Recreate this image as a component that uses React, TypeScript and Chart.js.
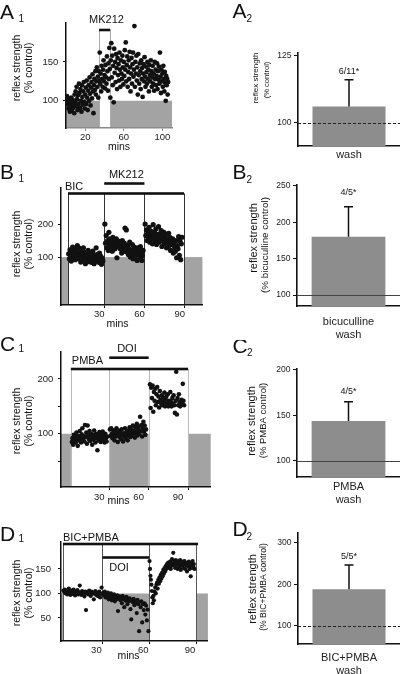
import React, { useEffect, useRef } from 'react';
import { Chart, registerables } from 'chart.js';

Chart.register(...registerables);

const FONT = '"Liberation Sans", Arial, Helvetica, sans-serif';
const INK = '#111111';
const SHADE = '#a3a3a3';
const BAR_FILL = '#8d8d8d';
const REF_LEVEL = 100;

// ================= DATA =================
// ---- A1 : MK212 alone ----
const A1_POINTS: number[][] = [
  [1,106],[1.5,96],[2,100],[2.5,90],[3,103],[3.5,94],[4,86],[4.5,99],[5,92],[5.5,104],[6,88],[6.5,97],[7,101],[7.5,91],[8,95],[8.5,84],[9,108],[9.5,98],
  [10,112],[10.5,93],[11,118],[11.5,102],[12,88],[12.5,107],[13,96],[13.5,122],[14,110],[14.5,91],[15,115],[15.5,100],[16,86],[16.5,120],[17,105],[17.5,95],[18,112],[18.5,124],[19,99],[19.5,90],
  [20,108],[20.5,117],[21,96],[21.5,126],[22,104],[22.5,88],[23,113],[23.5,120],[24,100],[24.5,130],[25,109],[25.5,94],[26,117],[26.5,124],[27,103],[27.5,134],[28,112],[28.5,84],[29,120],[29.5,128],
  [30,114],[30.5,138],[31,108],[31.5,125],[32,143],[32.5,118],[33,131],[33.5,104],[34,138],[34.5,126],
  [35,162],[35.5,122],[36,135],[36.5,112],[37,145],[37.5,128],[38,118],[38.5,140],[39,152],[39.5,125],[40,133],[40.5,116],[41,146],[41.5,130],[42,122],[42.5,157],[43,138],[43.5,113],[44,148],[44.5,128],
  [45,168],[45.5,141],[46,104],[46.5,152],[47,174],[47.5,130],[48,158],[48.5,120],[49,145],[49.5,98],[50,167],[50.5,136],[51,150],[51.5,124],[52,160],[52.5,142],[53,115],[53.5,155],[54,133],[54.5,147],[55,126],[55.5,162],[56,140],[56.5,118],[57,152],[57.5,135],[58,128],[58.5,158],[59,143],[59.5,121],
  [60,150],[60.5,132],[61,165],[61.5,140],[62,175],[62.5,125],[63,146],[63.5,157],[64,118],[64.5,137],[65,152],[65.5,128],[66,163],[66.5,143],[67,112],[67.5,135],[68,155],[68.5,122],[69,147],[69.5,162],[70,131],[70.5,140],[71,196],[71.5,118],[72,150],[72.5,135],[73,158],[73.5,126],[74,143],[74.5,108],
  [75,160],[75.5,133],[76,122],[76.5,148],[77,138],[77.5,115],[78,152],[78.5,128],[79,142],[79.5,105],[80,135],[80.5,147],[81,125],[81.5,156],[82,131],[82.5,118],[83,144],[83.5,137],[84,122],[84.5,150],[85,128],[85.5,140],[86,112],[86.5,146],[87,133],[87.5,125],[88,152],[88.5,138],[89,118],[89.5,130],
  [90,145],[90.5,122],[91,135],[91.5,113],[92,150],[92.5,128],[93,140],[93.5,120],[94,132],[94.5,148],[95,115],[95.5,138],[96,127],[96.5,144],[97,122],[97.5,162],[98,131],[98.5,110],[99,140],[99.5,125],[100,135],[100.5,118],[101,145],[101.5,128],[102,112],[102.5,137],[103,123],[103.5,100],[104,132],[104.5,120],[105,128],[105.5,108],[106,124],
];
const A1_X_TICKS = [20, 60, 100];
const A1_Y_TICKS = [100, 150];
const A1_Y_LABELS = ['100', '150'];
const A1_SHADED = [[0, 34.3], [45.7, 110]];
const A1_EDGES = [34.3, 45.7];
const A1_DRUGS = [{ name: 'MK212', from: 34.3, to: 45.7 }];

// ---- B1 : bicuculline + MK212 ----
const B1_POINTS: number[][] = [
  [3.5,110],[4,95],[4.5,122],[5,102],[5.5,88],[6,115],[6.5,130],[7,98],[7.5,107],[8,125],[8.5,92],[9,118],[9.5,104],[10,135],[10.5,96],[11,112],[11.5,127],[12,100],[12.5,85],[13,118],[13.5,108],[14,92],[14.5,128],[15,103],[15.5,114],[16,80],[16.5,98],[17,110],[17.5,92],[18,120],[18.5,86],[19,104],[19.5,96],[20,112],[20.5,84],[21,100],[21.5,118],[22,92],[22.5,80],[23,105],[23.5,95],[24,128],[24.5,88],[25,108],[25.5,98],[26,84],[26.5,112],[27,93],[27.5,102],[28,78],[28.5,96],[29,88],
  [30.5,200],[31,142],[31.5,165],[32,128],[32.5,150],[33,120],[33.5,175],[34,138],[34.5,155],[35,130],[35.5,145],[36,118],[36.5,160],[37,135],[37.5,148],[38,125],[38.5,140],[39,155],[39.5,98],[40,132],[40.5,148],[41,145],[41.5,128],[42,125],[42.5,138],[43,112],[43.5,150],[44,130],[44.5,118],[45,142],[45.5,188],[46,128],[46.5,182],[47,115],[47.5,135],[48,108],[48.5,125],[49,145],[49.5,100],[50,122],[50.5,110],[51,138],[51.5,95],[52,118],[52.5,130],[53,104],[53.5,122],[54,112],[54.5,90],[55,128],[55.5,108],[56,118],[56.5,98],[57,132],[57.5,110],[58,90],[58.5,105],[59,120],
  [60.5,200],[61,165],[61.5,182],[62,150],[62.5,172],[63,158],[63.5,190],[64,145],[64.5,168],[65,178],[65.5,155],[66,140],[66.5,198],[67,162],[67.5,175],[68,150],[68.5,185],[69,138],[69.5,168],[70,158],[70.5,192],[71,145],[71.5,170],[72,155],[72.5,180],[73,132],[73.5,162],[74,148],[74.5,175],[75,140],[75.5,158],[76,168],[76.5,128],[77,152],[77.5,145],[78,172],[78.5,135],[79,160],[79.5,120],[80,148],[80.5,138],[81,155],[81.5,112],[82,142],[82.5,130],[83,118],[83.5,150],[84,98],[84.5,135],[85,125],[85.5,162],[86,105],[86.5,148],[87,92],[87.5,140],[88,160],
];
const B1_X_TICKS = [30, 60, 90];
const B1_Y_TICKS = [100, 200];
const B1_Y_LABELS = ['100', '200'];
const B1_SHADED = [[-2.2, 3], [30, 60], [89.5, 103.2]];
const B1_EDGES = [3, 30, 60, 89.5];
const B1_DRUGS = [{ name: 'BIC', from: 3, to: 89.5 }, { name: 'MK212', from: 30, to: 60 }];

// ---- C1 : PMBA + DOI ----
const C1_POINTS: number[][] = [
  [1.5,85],[2,92],[2.5,80],[3,98],[3.5,88],[4,95],[4.5,84],[5,102],[5.5,90],[6,78],[6.5,96],[7,88],[7.5,105],[8,92],[8.5,84],[9,99],[9.5,110],[10,90],[10.5,96],[11,86],[11.5,116],[12,94],[12.5,102],[13,82],[13.5,115],[14,97],[14.5,90],[15,105],[15.5,87],[16,100],[16.5,93],[17,80],[17.5,98],[18,89],[18.5,106],[19,94],[19.5,84],[20,100],[20.5,92],[21,70],[21.5,97],[22,88],[22.5,103],[23,93],[23.5,85],[24,98],[24.5,90],[25,104],[25.5,88],[26,96],[26.5,84],[27,100],[27.5,92],[28,86],[28.5,95],
  [30.5,108],[31,96],[31.5,110],[32,100],[32.5,92],[33,106],[33.5,98],[34,88],[34.5,104],[35,95],[35.5,110],[36,100],[36.5,85],[37,97],[37.5,106],[38,94],[38.5,102],[39,90],[39.5,108],[40,98],[40.5,86],[41,101],[41.5,95],[42,110],[42.5,92],[43,103],[43.5,97],[44,88],[44.5,106],[45,99],[45.5,112],[46,94],[46.5,103],[47,108],[47.5,96],[48,115],[48.5,100],[49,105],[49.5,93],[50,112],[50.5,102],[51,118],[51.5,97],[52,107],[52.5,113],[53,100],[53.5,131],[54,105],[54.5,116],[55,95],[55.5,110],[56,122],[56.5,103],[57,115],[57.5,98],[58,108],
  [61,190],[61.5,147],[62,184],[62.5,165],[63,188],[63.5,140],[64,176],[64.5,160],[65,182],[65.5,152],[66,172],[66.5,185],[67,158],[67.5,168],[68,148],[68.5,178],[69,162],[69.5,155],[70,170],[70.5,152],[71,165],[71.5,158],[72,175],[72.5,150],[73,162],[73.5,168],[74,155],[74.5,172],[75,150],[75.5,160],[76,153],[76.5,176],[77,158],[77.5,150],[78,165],[78.5,155],[79,170],[79.5,152],[80,138],[80.5,160],[81,213],[81.5,135],[82,165],[82.5,152],[83,172],[83.5,158],[84,150],[84.5,156],[85,162],[85.5,155],[86,191],[86.5,160],[87,152],
];
const C1_X_TICKS = [30, 60, 90];
const C1_Y_TICKS = [50, 100, 150, 200];
const C1_Y_LABELS = ['', '100', '', '200'];
const C1_SHADED = [[-6.75, 0.75], [30, 60], [90, 107.25]];
const C1_EDGES = [0.75, 30, 60, 90];
const C1_DRUGS = [{ name: 'PMBA', from: 0.75, to: 90 }, { name: 'DOI', from: 30, to: 60 }];

// ---- D1 : BIC+PMBA + DOI ----
const D1_POINTS: number[][] = [
  [5,106],[5.5,103],[6,108],[6.5,100],[7,104],[7.5,98],[8,105],[8.5,110],[9,101],[9.5,97],[10,106],[10.5,103],[11,99],[11.5,108],[12,102],[12.5,96],[13,104],[13.5,100],[14,107],[14.5,98],[15,103],[15.5,116],[16,101],[16.5,97],[17,105],[17.5,99],[18,102],[18.5,94],[19,104],[19.5,66],[20,100],[20.5,103],[21,98],[21.5,106],[22,101],[22.5,95],[23,104],[23.5,99],[24,102],[24.5,88],[25,100],[25.5,105],[26,97],[26.5,102],[27,95],[27.5,100],[28,104],[28.5,92],[29,99],[29.5,112],
  [30.5,101],[31,96],[31.5,104],[32,92],[32.5,99],[33,94],[33.5,102],[34,88],[34.5,97],[35,92],[35.5,100],[36,86],[36.5,95],[37,90],[37.5,98],[38,84],[38.5,93],[39,88],[39.5,96],[40,64],[40.5,90],[41,94],[41.5,86],[42,92],[42.5,80],[43,95],[43.5,88],[44,72],[44.5,91],[45,85],[45.5,93],[46,78],[46.5,88],[47,84],[47.5,90],[48,68],[48.5,47],[49,86],[49.5,82],[50,89],[50.5,76],[51,85],[51.5,80],[52,60],[52.5,87],[53,78],[53.5,23],[54,83],[54.5,72],[55,84],[55.5,41],[56,78],[56.5,66],[57,80],[57.5,57],[58,75],[58.5,45],[59,67],[59.5,23],
  [60.2,166],[60.5,150],[60.8,136],[61.1,128],[61.4,118],[61.7,105],[62,92],[62.3,80],[62.7,95],[63,86],[63.4,104],[63.8,112],[64.2,100],[64.6,118],[65,122],[65.4,110],[65.8,128],[66.2,120],[66.6,133],[67,125],[67.4,138],[67.8,130],[68.2,142],[68.6,135],[69,148],[69.4,140],[69.8,152],[70.2,145],[70.6,156],[71,150],[71.4,160],[71.8,152],[72.2,163],[72.6,155],[73,158],[73.4,165],[73.8,150],[74.2,162],[74.6,170],[75,157],[75.4,183],[75.8,160],[76.2,166],[76.6,152],[77,168],[77.4,158],[77.8,163],[78.2,150],[78.6,166],[79,160],[79.4,155],[79.8,168],[80.2,148],[80.6,162],[81,157],[81.4,165],[81.8,152],[82.2,160],[82.6,166],[83,150],[83.4,158],[83.8,162],[84.2,145],[84.6,160],[85,155],[85.4,165],[85.8,150],[86.2,158],[86.6,135],[87,162],[87.4,152],[87.8,166],[88.2,155],[88.6,160],[89,150],
];
const D1_X_TICKS = [30, 60, 90];
const D1_Y_TICKS = [50, 100, 150];
const D1_Y_LABELS = ['50', '100', '150'];
const D1_SHADED = [[3.47, 4.74], [30, 60], [90, 97.6]];
const D1_EDGES = [4.74, 30, 60, 90];
const D1_DRUGS = [{ name: 'BIC+PMBA', from: 4.74, to: 91.3 }, { name: 'DOI', from: 30, to: 60 }];

// ---- summary bars ----
const A2_CATEGORY = ['wash'];
const A2_MEAN = [106];
const A2_SEM = [10];
const A2_NOTE = '6/11*';
const A2_Y_TICKS = [100, 125];

const B2_CATEGORY = ['bicuculline', 'wash'];
const B2_MEAN = [180];
const B2_SEM = [41];
const B2_NOTE = '4/5*';
const B2_Y_TICKS = [100, 150, 200, 250];

const C2_CATEGORY = ['PMBA', 'wash'];
const C2_MEAN = [144];
const C2_SEM = [21];
const C2_NOTE = '4/5*';
const C2_Y_TICKS = [100, 150, 200];

const D2_CATEGORY = ['BIC+PMBA', 'wash'];
const D2_MEAN = [188];
const D2_SEM = [59];
const D2_NOTE = '5/5*';
const D2_Y_TICKS = [100, 200, 300];

// ================= LAYOUT / STYLE =================
type Box = { left: number; top: number; width: number; height: number };
type Area = { left: number; top: number; right: number; bottom: number };
type Drug = { name: string; from: number; to: number };
type DrugStyle = { barDy: number; textDy: number; textDx: number; align: CanvasTextAlign };

interface ScatterSpec {
  box: Box; area: Area;
  x: number[]; y: number[];
  xTicks: number[]; xLabelOffset: number; xTickPad: number; xBorder: string;
  yTicks: number[]; yLabels: string[]; yTickPad: number;
  points: number[][]; radius: number;
  shaded: number[][]; edges: number[]; edgeColor: string; edgeTop: number;
  drugs: Drug[]; drugStyles: DrugStyle[];
  letter: string[]; letterPos: number[]; subPos: number[];
  yTitle: string[]; yTitlePos: number[];
  xTitle: string; xTitlePos: number[];
}

interface BarSpec {
  box: Box; area: Area; y: number[]; yTicks: number[];
  category: string[]; mean: number[]; sem: number[]; note: string; noteDy: number;
  refDashed: boolean; xTickPad: number; xLineHeight: number;
  letter: string[]; letterPos: number[]; subPos: number[];
  yTitle: string[]; yTitlePos: number[]; yTitleSizes: number[];
}

const YT = ['reflex strength', '(% control)'];

const SCATTERS: ScatterSpec[] = [
  {
    box: { left: 0, top: 0, width: 200, height: 160 }, area: { left: 66, top: 23, right: 172, bottom: 128 },
    x: [0, 110], y: [65, 200],
    xTicks: A1_X_TICKS, xLabelOffset: 0, xTickPad: 1.1, xBorder: '#8a8a8a',
    yTicks: A1_Y_TICKS, yLabels: A1_Y_LABELS, yTickPad: 4.7,
    points: A1_POINTS, radius: 2.4,
    shaded: A1_SHADED, edges: A1_EDGES, edgeColor: '#aaaaaa', edgeTop: 6,
    drugs: A1_DRUGS, drugStyles: [{ barDy: 7, textDy: -3, textDx: 2, align: 'center' }],
    letter: ['A', '1'], letterPos: [0, 18.5], subPos: [18.5, 21.5],
    yTitle: YT, yTitlePos: [17, 29, 68],
    xTitle: 'mins', xTitlePos: [119, 147.5],
  },
  {
    box: { left: 0, top: 160, width: 205, height: 175 }, area: { left: 61, top: 188, right: 205, bottom: 305 },
    x: [-2.2, 103.2], y: [-45, 309],
    xTicks: B1_X_TICKS, xLabelOffset: -5, xTickPad: 0.8, xBorder: INK,
    yTicks: B1_Y_TICKS, yLabels: B1_Y_LABELS, yTickPad: 4.7,
    points: B1_POINTS, radius: 2.6,
    shaded: B1_SHADED, edges: B1_EDGES, edgeColor: '#333333', edgeTop: 5.5,
    drugs: B1_DRUGS,
    drugStyles: [
      { barDy: 5.5, textDy: -1.5, textDx: -3, align: 'left' },
      { barDy: -4.5, textDy: -13, textDx: 2, align: 'center' },
    ],
    letter: ['B', '1'], letterPos: [0, 178.5], subPos: [18.5, 181.5],
    yTitle: YT, yTitlePos: [17, 29, 244],
    xTitle: 'mins', xTitlePos: [117.5, 323.7],
  },
  {
    box: { left: 0, top: 335, width: 213, height: 173 }, area: { left: 61, top: 352, right: 213, bottom: 487 },
    x: [-6.75, 107.25], y: [3, 249],
    xTicks: C1_X_TICKS, xLabelOffset: -10, xTickPad: 1.3, xBorder: INK,
    yTicks: C1_Y_TICKS, yLabels: C1_Y_LABELS, yTickPad: 4.7,
    points: C1_POINTS, radius: 2.3,
    shaded: C1_SHADED, edges: C1_EDGES, edgeColor: '#bbbbbb', edgeTop: 17,
    drugs: C1_DRUGS,
    drugStyles: [
      { barDy: 17, textDy: 9, textDx: 1, align: 'left' },
      { barDy: 5.7, textDy: -3, textDx: -2, align: 'center' },
    ],
    letter: ['C', '1'], letterPos: [0, 350.5], subPos: [18.5, 351.5],
    yTitle: YT, yTitlePos: [17, 29, 421],
    xTitle: 'mins', xTitlePos: [118.5, 501],
  },
  {
    box: { left: 0, top: 505, width: 210, height: 169 }, area: { left: 61, top: 542, right: 210, bottom: 641 },
    x: [3.47, 97.6], y: [3, 205],
    xTicks: D1_X_TICKS, xLabelOffset: -6, xTickPad: 0.3, xBorder: INK,
    yTicks: D1_Y_TICKS, yLabels: D1_Y_LABELS, yTickPad: 7,
    points: D1_POINTS, radius: 2.1,
    shaded: D1_SHADED, edges: D1_EDGES, edgeColor: '#555555', edgeTop: 2,
    drugs: D1_DRUGS,
    drugStyles: [
      { barDy: 2, textDy: -4, textDx: 0, align: 'left' },
      { barDy: 15.5, textDy: 25.5, textDx: -6.75, align: 'center' },
    ],
    letter: ['D', '1'], letterPos: [0, 541], subPos: [18.5, 541.5],
    yTitle: YT, yTitlePos: [17, 29, 593],
    xTitle: 'mins', xTitlePos: [128.5, 656],
  },
];

const BARS: BarSpec[] = [
  {
    box: { left: 200, top: 0, width: 200, height: 165 }, area: { left: 298, top: 53, right: 400, bottom: 146 },
    y: [91.3, 126], yTicks: A2_Y_TICKS,
    category: A2_CATEGORY, mean: A2_MEAN, sem: A2_SEM, note: A2_NOTE, noteDy: -8,
    refDashed: true, xTickPad: 2.4, xLineHeight: 1.2,
    letter: ['A', '2'], letterPos: [232.5, 18], subPos: [246.5, 22],
    yTitle: ['reflex strength', '(% control)'], yTitlePos: [255.5, 266.5, 78, 80], yTitleSizes: [8, 7.6],
  },
  {
    box: { left: 200, top: 165, width: 200, height: 175 }, area: { left: 297, top: 185, right: 400, bottom: 306 },
    y: [85, 251], yTicks: B2_Y_TICKS,
    category: B2_CATEGORY, mean: B2_MEAN, sem: B2_SEM, note: B2_NOTE, noteDy: -14,
    refDashed: false, xTickPad: 9.1, xLineHeight: 1.2,
    letter: ['B', '2'], letterPos: [232.5, 178.5], subPos: [246.5, 182.5],
    yTitle: ['reflex strength', '(% bicuculline control)'], yTitlePos: [254, 265, 238, 245], yTitleSizes: [11, 9.8],
  },
  {
    box: { left: 200, top: 340, width: 200, height: 170 }, area: { left: 297, top: 369, right: 400, bottom: 477 },
    y: [82.4, 201], yTicks: C2_Y_TICKS,
    category: C2_CATEGORY, mean: C2_MEAN, sem: C2_SEM, note: C2_NOTE, noteDy: -10,
    refDashed: false, xTickPad: 3.1, xLineHeight: 1.2,
    letter: ['C', '2'], letterPos: [232.5, 352.5], subPos: [247, 355.5],
    yTitle: ['reflex strength', '(% PMBA control)'], yTitlePos: [252, 263, 421, 420.5], yTitleSizes: [11, 9.5],
  },
  {
    box: { left: 200, top: 510, width: 200, height: 164 }, area: { left: 298, top: 533, right: 400, bottom: 644 },
    y: [56, 324], yTicks: D2_Y_TICKS,
    category: D2_CATEGORY, mean: D2_MEAN, sem: D2_SEM, note: D2_NOTE, noteDy: -8,
    refDashed: true, xTickPad: 8.4, xLineHeight: 1.1,
    letter: ['D', '2'], letterPos: [232.5, 535.5], subPos: [246.5, 539.5],
    yTitle: ['reflex strength', '(% BIC+PMBA control)'], yTitlePos: [253, 263.5, 589, 587], yTitleSizes: [11, 8.6],
  },
];

// ================= DRAW HELPERS =================
function drawText(ctx: CanvasRenderingContext2D, text: string, x: number, y: number, size: number, align: CanvasTextAlign = 'center') {
  ctx.font = `${size}px ${FONT}`;
  ctx.textAlign = align;
  ctx.textBaseline = 'middle';
  ctx.fillStyle = INK;
  ctx.fillText(text, x, y);
}

function drawVText(ctx: CanvasRenderingContext2D, text: string, x: number, y: number, size: number) {
  ctx.save();
  ctx.translate(x, y);
  ctx.rotate(-Math.PI / 2);
  drawText(ctx, text, 0, 0, size);
  ctx.restore();
}

function drawLetter(ctx: CanvasRenderingContext2D, letter: string[], pos: number[], sub: number[], box: Box) {
  ctx.fillStyle = INK;
  ctx.textAlign = 'left';
  ctx.textBaseline = 'alphabetic';
  ctx.font = `21px ${FONT}`;
  ctx.fillText(letter[0], pos[0] - box.left, pos[1] - box.top);
  ctx.font = `10px ${FONT}`;
  ctx.fillText(letter[1], sub[0] - box.left, sub[1] - box.top);
}

function scatterDecor(s: ScatterSpec) {
  return {
    id: 'scatterDecor',
    beforeDraw(chart: any) {
      const { ctx, chartArea: ca } = chart;
      const xs = chart.scales.x;
      const ys = chart.scales.y;
      ctx.save();
      ctx.fillStyle = SHADE;
      const yTop = ys.getPixelForValue(REF_LEVEL);
      s.shaded.forEach(([a, b]) => {
        const x0 = xs.getPixelForValue(a);
        const x1 = xs.getPixelForValue(b);
        ctx.fillRect(x0, yTop, x1 - x0, ca.bottom - yTop);
      });
      ctx.strokeStyle = s.edgeColor;
      ctx.lineWidth = 1;
      s.edges.forEach((v) => {
        const px = Math.round(xs.getPixelForValue(v)) + 0.5;
        ctx.beginPath();
        ctx.moveTo(px, ca.top + s.edgeTop);
        ctx.lineTo(px, ca.bottom);
        ctx.stroke();
      });
      ctx.restore();
    },
    afterDraw(chart: any) {
      const { ctx, chartArea: ca } = chart;
      const xs = chart.scales.x;
      const b = s.box;
      ctx.save();
      s.drugs.forEach((d, i) => {
        const st = s.drugStyles[i];
        const x0 = xs.getPixelForValue(d.from);
        const x1 = xs.getPixelForValue(d.to);
        const yb = ca.top + st.barDy;
        ctx.fillStyle = INK;
        ctx.fillRect(x0, yb - 1.3, x1 - x0, 2.6);
        const tx = st.align === 'left' ? x0 + st.textDx : (x0 + x1) / 2 + st.textDx;
        drawText(ctx, d.name, tx, ca.top + st.textDy, 11, st.align);
      });
      drawVText(ctx, s.yTitle[0], s.yTitlePos[0] - b.left, s.yTitlePos[2] - b.top, 10.5);
      drawVText(ctx, s.yTitle[1], s.yTitlePos[1] - b.left, s.yTitlePos[2] - b.top, 10.5);
      drawText(ctx, s.xTitle, s.xTitlePos[0] - b.left, s.xTitlePos[1] - b.top, 10.5);
      drawLetter(ctx, s.letter, s.letterPos, s.subPos, b);
      ctx.restore();
    },
  };
}

function barDecor(s: BarSpec) {
  return {
    id: 'barDecor',
    afterDatasetsDraw(chart: any) {
      const { ctx, chartArea: ca } = chart;
      const ys = chart.scales.y;
      const bar = chart.getDatasetMeta(0).data[0];
      const cx = bar.x;
      ctx.save();
      const yRef = Math.round(ys.getPixelForValue(REF_LEVEL)) + 0.5;
      ctx.strokeStyle = s.refDashed ? '#222222' : '#444444';
      ctx.lineWidth = 1;
      ctx.setLineDash(s.refDashed ? [3, 2] : []);
      ctx.beginPath();
      ctx.moveTo(ca.left, yRef);
      ctx.lineTo(ca.right, yRef);
      ctx.stroke();
      ctx.setLineDash([]);
      const yTop = ys.getPixelForValue(s.mean[0]);
      const yErr = ys.getPixelForValue(s.mean[0] + s.sem[0]);
      ctx.strokeStyle = INK;
      ctx.lineWidth = 1.5;
      ctx.beginPath();
      ctx.moveTo(cx, yTop);
      ctx.lineTo(cx, yErr);
      ctx.moveTo(cx - 4.5, yErr);
      ctx.lineTo(cx + 4.5, yErr);
      ctx.stroke();
      drawText(ctx, s.note, cx, yErr + s.noteDy, 9);
      ctx.restore();
    },
    afterDraw(chart: any) {
      const { ctx } = chart;
      const b = s.box;
      ctx.save();
      drawVText(ctx, s.yTitle[0], s.yTitlePos[0] - b.left, s.yTitlePos[2] - b.top, s.yTitleSizes[0]);
      drawVText(ctx, s.yTitle[1], s.yTitlePos[1] - b.left, s.yTitlePos[3] - b.top, s.yTitleSizes[1]);
      drawLetter(ctx, s.letter, s.letterPos, s.subPos, b);
      ctx.restore();
    },
  };
}

// ================= COMPONENTS =================
function ScatterPanel({ spec }: { spec: ScatterSpec }) {
  const ref = useRef<HTMLCanvasElement>(null);
  useEffect(() => {
    const s = spec;
    const cfg: any = {
      type: 'scatter',
      data: {
        datasets: [{
          data: s.points.map(([x, y]) => ({ x, y })),
          pointRadius: s.radius, pointHoverRadius: s.radius,
          pointBackgroundColor: INK, pointBorderColor: INK, pointBorderWidth: 0,
          showLine: false,
        }],
      },
      options: {
        responsive: false, animation: false, events: [],
        layout: { padding: { left: 0, bottom: 0, top: s.area.top - s.box.top, right: s.box.left + s.box.width - s.area.right } },
        plugins: { legend: { display: false }, tooltip: { enabled: false } },
        scales: {
          x: {
            type: 'linear', position: 'bottom', min: s.x[0], max: s.x[1],
            afterFit: (sc: any) => { sc.height = s.box.top + s.box.height - s.area.bottom; },
            afterBuildTicks: (sc: any) => { sc.ticks = s.xTicks.map((v) => ({ value: v })); },
            ticks: {
              autoSkip: false, maxRotation: 0, color: '#222222', padding: s.xTickPad, labelOffset: s.xLabelOffset,
              font: { family: FONT, size: 9.5, lineHeight: 1.2 },
              callback: (v: any) => String(v),
            },
            grid: { display: true, drawOnChartArea: false, drawTicks: true, tickLength: 3, color: s.xBorder, lineWidth: 1 },
            border: { display: true, color: s.xBorder, width: 1.5 },
          },
          y: {
            type: 'linear', position: 'left', min: s.y[0], max: s.y[1],
            afterFit: (sc: any) => { sc.width = s.area.left - s.box.left; },
            afterBuildTicks: (sc: any) => { sc.ticks = s.yTicks.map((v) => ({ value: v })); },
            ticks: {
              autoSkip: false, color: '#222222', padding: s.yTickPad,
              font: { family: FONT, size: 9.5, lineHeight: 1.2 },
              callback: (_v: any, i: number) => s.yLabels[i],
            },
            grid: { display: true, drawOnChartArea: false, drawTicks: true, tickLength: 3, color: INK, lineWidth: 1 },
            border: { display: true, color: INK, width: 1.5 },
          },
        },
      },
      plugins: [scatterDecor(s)],
    };
    const chart = new Chart(ref.current as HTMLCanvasElement, cfg);
    return () => chart.destroy();
  }, [spec]);
  return (
    <canvas ref={ref} width={spec.box.width} height={spec.box.height}
      style={{ position: 'absolute', left: spec.box.left, top: spec.box.top, width: spec.box.width, height: spec.box.height }} />
  );
}

function BarPanel({ spec }: { spec: BarSpec }) {
  const ref = useRef<HTMLCanvasElement>(null);
  useEffect(() => {
    const s = spec;
    const cfg: any = {
      type: 'bar',
      data: {
        labels: [s.category],
        datasets: [{ data: s.mean, backgroundColor: BAR_FILL, borderWidth: 0, barPercentage: 0.716, categoryPercentage: 1 }],
      },
      options: {
        responsive: false, animation: false, events: [],
        layout: { padding: { left: 0, bottom: 0, top: s.area.top - s.box.top, right: s.box.left + s.box.width - s.area.right } },
        plugins: { legend: { display: false }, tooltip: { enabled: false } },
        scales: {
          x: {
            type: 'category', position: 'bottom',
            afterFit: (sc: any) => { sc.height = s.box.top + s.box.height - s.area.bottom; },
            ticks: { color: '#222222', padding: s.xTickPad, maxRotation: 0, font: { family: FONT, size: 11, lineHeight: s.xLineHeight } },
            grid: { display: false, drawTicks: false },
            border: { display: true, color: INK, width: 1.6 },
          },
          y: {
            type: 'linear', position: 'left', min: s.y[0], max: s.y[1],
            afterFit: (sc: any) => { sc.width = s.area.left - s.box.left; },
            afterBuildTicks: (sc: any) => { sc.ticks = s.yTicks.map((v) => ({ value: v })); },
            ticks: {
              autoSkip: false, color: '#222222', padding: 2.5,
              font: { family: FONT, size: 8.5, lineHeight: 1.2 },
              callback: (v: any) => String(v),
            },
            grid: { display: true, drawOnChartArea: false, drawTicks: true, tickLength: 4, color: INK, lineWidth: 1 },
            border: { display: true, color: INK, width: 1.6 },
          },
        },
      },
      plugins: [barDecor(s)],
    };
    const chart = new Chart(ref.current as HTMLCanvasElement, cfg);
    return () => chart.destroy();
  }, [spec]);
  return (
    <canvas ref={ref} width={spec.box.width} height={spec.box.height}
      style={{ position: 'absolute', left: spec.box.left, top: spec.box.top, width: spec.box.width, height: spec.box.height }} />
  );
}

export default function App() {
  return (
    <div style={{ position: 'absolute', left: 0, top: 0, width: 400, height: 674, background: '#ffffff', overflow: 'hidden' }}>
      {SCATTERS.map((s, i) => <ScatterPanel key={'s' + i} spec={s} />)}
      {BARS.map((s, i) => <BarPanel key={'b' + i} spec={s} />)}
    </div>
  );
}
